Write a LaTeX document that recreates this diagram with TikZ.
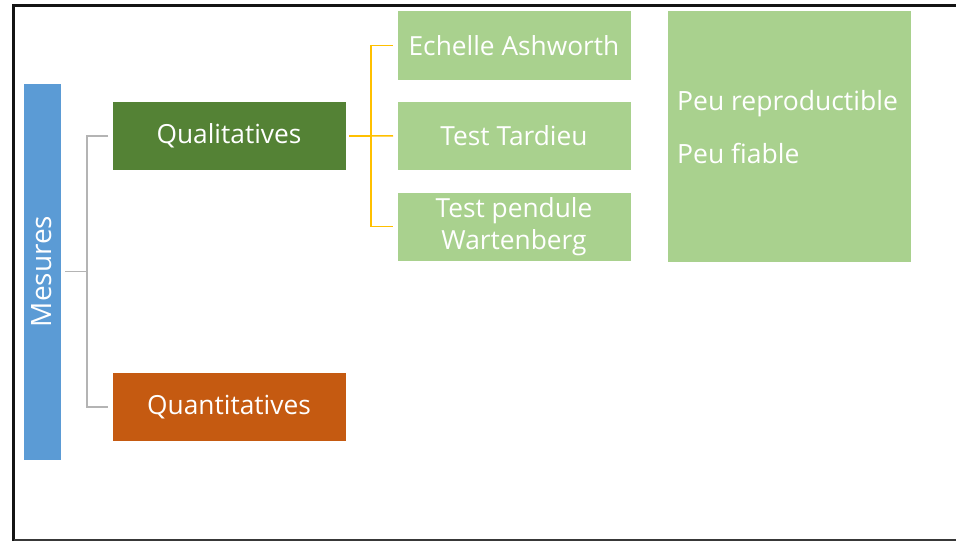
\documentclass[tikz,border=0pt]{standalone}
\usepackage{fontspec}
\setmainfont{Open Sans}
\definecolor{mblue}{HTML}{5B9BD5}
\definecolor{dgreen}{HTML}{548235}
\definecolor{lgreen}{HTML}{A9D18E}
\definecolor{rust}{HTML}{C55A11}
\definecolor{amber}{HTML}{FFC000}
\definecolor{lgray}{HTML}{B4B4B4}
\begin{document}
\begin{tikzpicture}[x=1pt,y=-1pt,
  box/.style={draw=white, line width=0.6pt, inner sep=0pt, outer sep=0pt,
    text=white, align=center, font=\fontsize{26.3}{32}\selectfont},
  wide/.style={box, minimum width=234pt, minimum height=69pt},
  remark/.style={anchor=base west, inner sep=0pt, text=white,
    font=\fontsize{26.5}{32}\selectfont},
  gconn/.style={draw=lgray, line width=1.5pt},
  oconn/.style={draw=amber, line width=1.5pt}
]
\useasboundingbox (0,0) rectangle (956,541);
\fill[white] (0,0) rectangle (956,541);

% slide frame
\draw[line width=3pt, black!92] (13.5,541) -- (13.5,5) -- (956,5);
\draw[line width=2pt, black!78] (13.5,540) -- (956,540);

% root
\node[box, fill=mblue, minimum width=38pt, minimum height=377pt,
  font=\fontsize{28}{32}\selectfont] (mes) at (42,271.5) {\rotatebox{90}{Mesures}};

% first level
\node[wide, fill=dgreen] (qual) at (229,136) {\raisebox{-1pt}{Qualitatives}};
\node[wide, fill=rust, minimum height=68.5pt] (quant) at (229,406.8) {\raisebox{-1.5pt}{Quantitatives}};

% second level
\node[wide, fill=lgreen, minimum height=69.5pt] (ech) at (514,45.3) {Echelle Ashworth};
\node[wide, fill=lgreen] (tard) at (514,135.8) {Test Tardieu};
\node[wide, fill=lgreen] (pend) at (514,226.6) {Test pendule\\Wartenberg};

% remarks
\node[box, fill=lgreen, minimum width=244pt, minimum height=252pt] (rem) at (789,136.4) {};
\node[remark] (rem1) at (677,110.7) {Peu reproductible};
\node[remark] (rem2) at (677,163.3) {Peu fiable};

% gray tree connectors
\draw[gconn] ([xshift=4pt]mes.east) -- ++(22,0) coordinate (jg);
\draw[gconn] ([xshift=-4pt]qual.west) -| (jg) |- ([xshift=-4pt]quant.west);

% amber tree connectors
\draw[oconn, line width=2.2pt] ([xshift=3pt]qual.east) -- ++(22,0) coordinate (jo);
\draw[oconn] ([xshift=-4pt]ech.west) -| (jo) |- ([xshift=-4pt]pend.west);
\draw[oconn] (jo) -- ([xshift=-4pt]tard.west);
\end{tikzpicture}
\end{document}
